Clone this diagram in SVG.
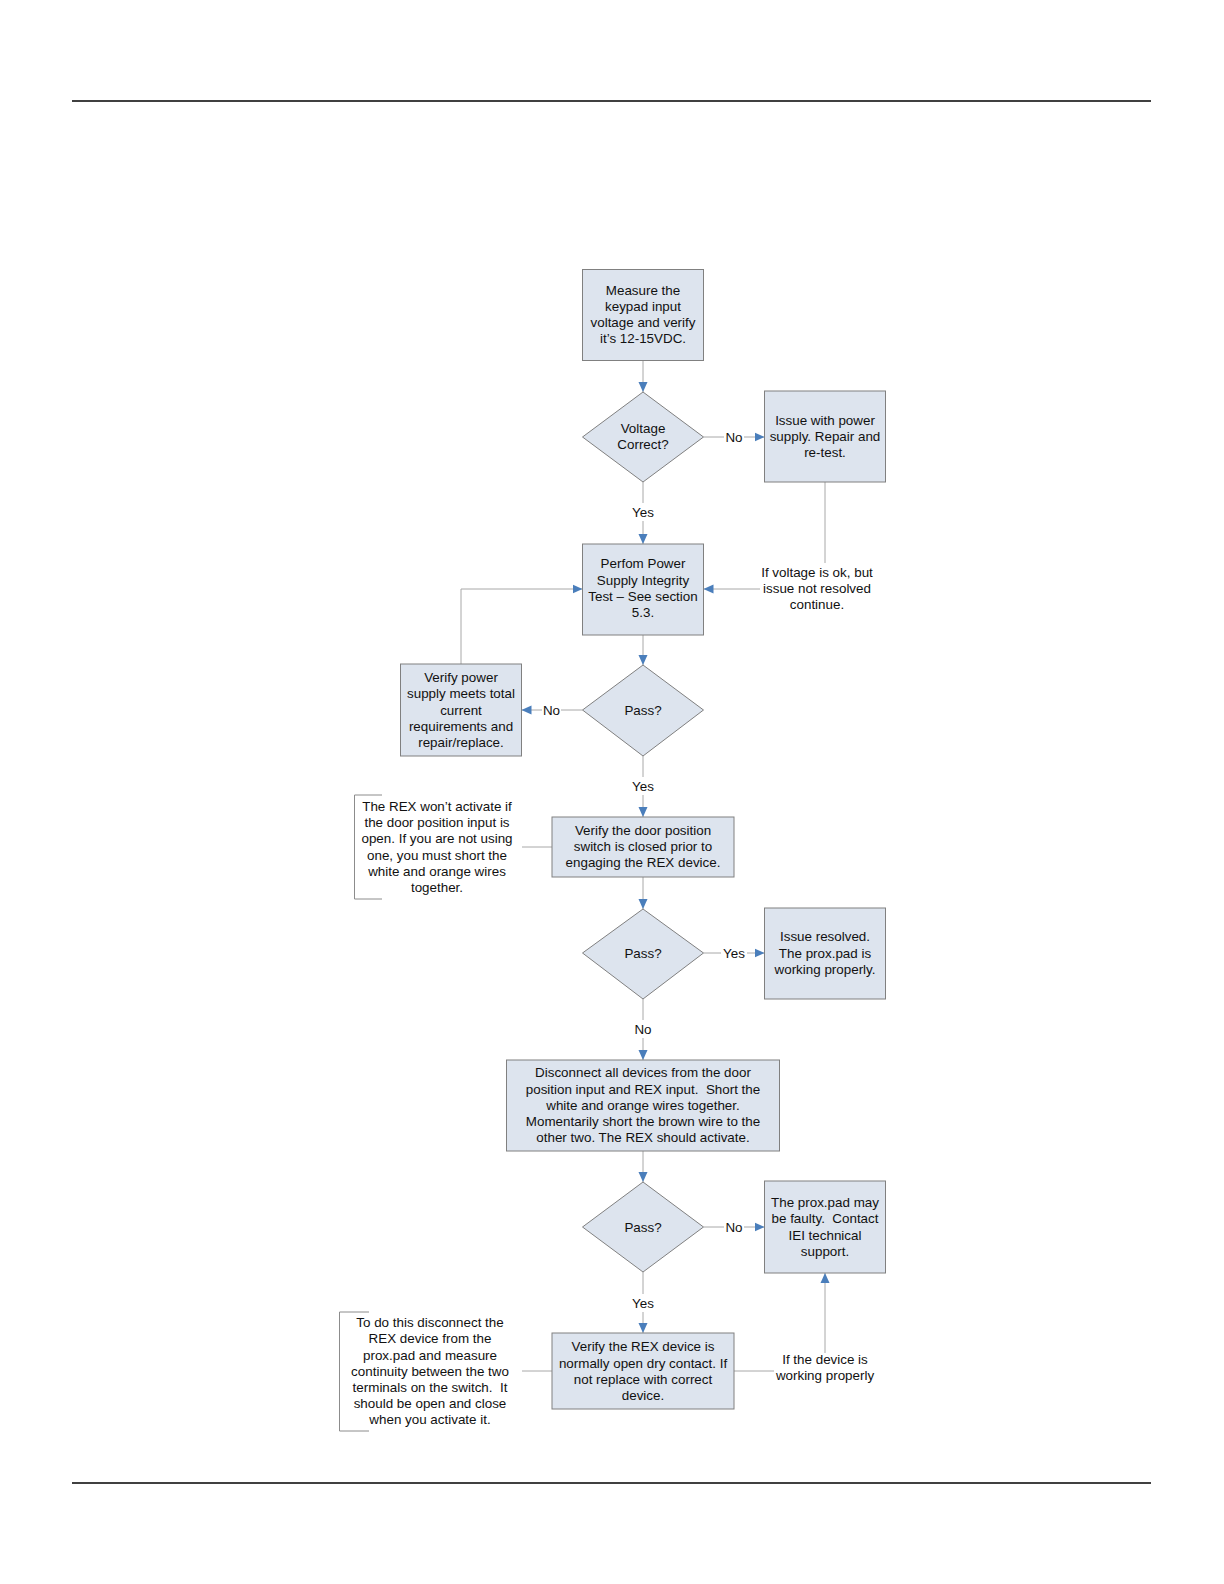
<svg xmlns="http://www.w3.org/2000/svg" width="1224" height="1584" viewBox="0 0 1224 1584">
<style>
.box{fill:#dde4ee;stroke:#808080;stroke-width:1}
.t{font-family:"Liberation Sans",Arial,sans-serif;font-size:13.4px;fill:#111;text-anchor:middle;white-space:pre}
.c{fill:none;stroke:#a8a8a8;stroke-width:1}
.a{fill:none;stroke:#a8a8a8;stroke-width:1;marker-end:url(#arr)}
.br{fill:none;stroke:#8c8c8c;stroke-width:1}
</style>
<defs>
<marker id="arr" markerUnits="userSpaceOnUse" markerWidth="10" markerHeight="10" viewBox="0 0 10 10" refX="10" refY="5" orient="auto">
<path d="M0,0.5 L10,5 L0,9.5 Z" fill="#4a7ebb"/>
</marker>
</defs>
<rect width="1224" height="1584" fill="#ffffff"/>
<line x1="72" y1="101" x2="1151" y2="101" stroke="#000" stroke-width="1.5"/>
<line x1="72" y1="1483" x2="1151" y2="1483" stroke="#000" stroke-width="1.5"/>

<g id="connectors">
<line class="a" x1="643" y1="361" x2="643" y2="392"/>
<line class="c" x1="703.5" y1="437" x2="724" y2="437"/>
<line class="a" x1="744" y1="437" x2="764.5" y2="437"/>
<text class="t" x="734" y="441.8">No</text>
<line class="c" x1="643" y1="482" x2="643" y2="503"/>
<line class="a" x1="643" y1="521" x2="643" y2="544"/>
<text class="t" x="643" y="516.8">Yes</text>
<line class="c" x1="825" y1="482" x2="825" y2="563"/>
<line class="a" x1="760" y1="589" x2="703.5" y2="589"/>
<text class="t" x="817" y="577">If voltage is ok, but</text>
<text class="t" x="817" y="593">issue not resolved</text>
<text class="t" x="817" y="609">continue.</text>
<polyline class="a" points="461,664 461,589 582.5,589"/>
<line class="a" x1="643" y1="635" x2="643" y2="665"/>
<line class="c" x1="582.5" y1="710" x2="561" y2="710"/>
<line class="a" x1="542" y1="710" x2="521.5" y2="710"/>
<text class="t" x="551.5" y="714.8">No</text>
<line class="c" x1="643" y1="756" x2="643" y2="777"/>
<line class="a" x1="643" y1="795" x2="643" y2="817"/>
<text class="t" x="643" y="790.8">Yes</text>
<line class="c" x1="522" y1="847" x2="552" y2="847"/>
<line class="a" x1="643" y1="877" x2="643" y2="909"/>
<line class="c" x1="703.5" y1="953" x2="721" y2="953"/>
<line class="a" x1="747" y1="953" x2="764.5" y2="953"/>
<text class="t" x="734" y="957.8">Yes</text>
<line class="c" x1="643" y1="999" x2="643" y2="1020"/>
<line class="a" x1="643" y1="1038" x2="643" y2="1060"/>
<text class="t" x="643" y="1034">No</text>
<line class="a" x1="643" y1="1151" x2="643" y2="1182"/>
<line class="c" x1="703.5" y1="1227" x2="724" y2="1227"/>
<line class="a" x1="744" y1="1227" x2="764.5" y2="1227"/>
<text class="t" x="734" y="1231.8">No</text>
<line class="c" x1="643" y1="1272" x2="643" y2="1294"/>
<line class="a" x1="643" y1="1312" x2="643" y2="1333"/>
<text class="t" x="643" y="1307.8">Yes</text>
<line class="c" x1="734" y1="1371" x2="774" y2="1371"/>
<line class="a" x1="825" y1="1353" x2="825" y2="1273"/>
<text class="t" x="825" y="1363.8">If the device is</text>
<text class="t" x="825" y="1380">working properly</text>
<line class="c" x1="522" y1="1371" x2="552" y2="1371"/>
</g>

<g id="n1">
<rect class="box" x="582.5" y="269.5" width="121" height="91"/>
<text class="t" x="643" y="294.8">Measure the</text>
<text class="t" x="643" y="310.8">keypad input</text>
<text class="t" x="643" y="326.8">voltage and verify</text>
<text class="t" x="643" y="342.8">it’s 12-15VDC.</text>
</g>
<g id="d1">
<polygon class="box" points="643,392 703.5,437 643,482 582.5,437"/>
<text class="t" x="643" y="433">Voltage</text>
<text class="t" x="643" y="449">Correct?</text>
</g>
<g id="n2">
<rect class="box" x="764.5" y="391" width="121" height="91"/>
<text class="t" x="825" y="424.8">Issue with power</text>
<text class="t" x="825" y="441">supply. Repair and</text>
<text class="t" x="825" y="457.4">re-test.</text>
</g>
<g id="n3">
<rect class="box" x="582.5" y="544" width="121" height="91"/>
<text class="t" x="643" y="568.4">Perfom Power</text>
<text class="t" x="643" y="585">Supply Integrity</text>
<text class="t" x="643" y="601">Test – See section</text>
<text class="t" x="643" y="617">5.3.</text>
</g>
<g id="d2">
<polygon class="box" points="643,665 703.5,710 643,756 582.5,710"/>
<text class="t" x="643" y="714.8">Pass?</text>
</g>
<g id="n4">
<rect class="box" x="400.5" y="664" width="121" height="92"/>
<text class="t" x="461" y="682">Verify power</text>
<text class="t" x="461" y="698.4">supply meets total</text>
<text class="t" x="461" y="714.8">current</text>
<text class="t" x="461" y="730.8">requirements and</text>
<text class="t" x="461" y="746.8">repair/replace.</text>
</g>
<g id="n5">
<rect class="box" x="552" y="817" width="182" height="60"/>
<text class="t" x="643" y="835.4">Verify the door position</text>
<text class="t" x="643" y="851.4">switch is closed prior to</text>
<text class="t" x="643" y="867.4">engaging the REX device.</text>
</g>
<g id="note1">
<path class="br" d="M382,795 H354.5 V899 H382"/>
<text class="t" x="437" y="810.8">The REX won’t activate if</text>
<text class="t" x="437" y="827">the door position input is</text>
<text class="t" x="437" y="843.4">open. If you are not using</text>
<text class="t" x="437" y="859.8">one, you must short the</text>
<text class="t" x="437" y="876">white and orange wires</text>
<text class="t" x="437" y="892">together.</text>
</g>
<g id="d3">
<polygon class="box" points="643,909 703.5,953 643,999 582.5,953"/>
<text class="t" x="643" y="957.8">Pass?</text>
</g>
<g id="n6">
<rect class="box" x="764.5" y="908" width="121" height="91"/>
<text class="t" x="825" y="941.4">Issue resolved.</text>
<text class="t" x="825" y="957.8">The prox.pad is</text>
<text class="t" x="825" y="974">working properly.</text>
</g>
<g id="n7">
<rect class="box" x="506.5" y="1060" width="273" height="91"/>
<text class="t" x="643" y="1077.4">Disconnect all devices from the door</text>
<text class="t" x="643" y="1093.8">position input and REX input.  Short the</text>
<text class="t" x="643" y="1110">white and orange wires together.</text>
<text class="t" x="643" y="1126.4">Momentarily short the brown wire to the</text>
<text class="t" x="643" y="1142.4">other two. The REX should activate.</text>
</g>
<g id="d4">
<polygon class="box" points="643,1182 703.5,1227 643,1272 582.5,1227"/>
<text class="t" x="643" y="1231.8">Pass?</text>
</g>
<g id="n8">
<rect class="box" x="764.5" y="1181" width="121" height="92"/>
<text class="t" x="825" y="1207">The prox.pad may</text>
<text class="t" x="825" y="1223.4">be faulty.  Contact</text>
<text class="t" x="825" y="1239.8">IEI technical</text>
<text class="t" x="825" y="1256">support.</text>
</g>
<g id="n9">
<rect class="box" x="552" y="1333" width="182" height="76"/>
<text class="t" x="643" y="1351.4">Verify the REX device is</text>
<text class="t" x="643" y="1367.8">normally open dry contact. If</text>
<text class="t" x="643" y="1384">not replace with correct</text>
<text class="t" x="643" y="1400">device.</text>
</g>
<g id="note2">
<path class="br" d="M369,1312 H339.5 V1431 H369"/>
<text class="t" x="430" y="1327">To do this disconnect the</text>
<text class="t" x="430" y="1343.4">REX device from the</text>
<text class="t" x="430" y="1359.8">prox.pad and measure</text>
<text class="t" x="430" y="1376">continuity between the two</text>
<text class="t" x="430" y="1392">terminals on the switch.  It</text>
<text class="t" x="430" y="1408.4">should be open and close</text>
<text class="t" x="430" y="1424.4">when you activate it.</text>
</g>
</svg>
